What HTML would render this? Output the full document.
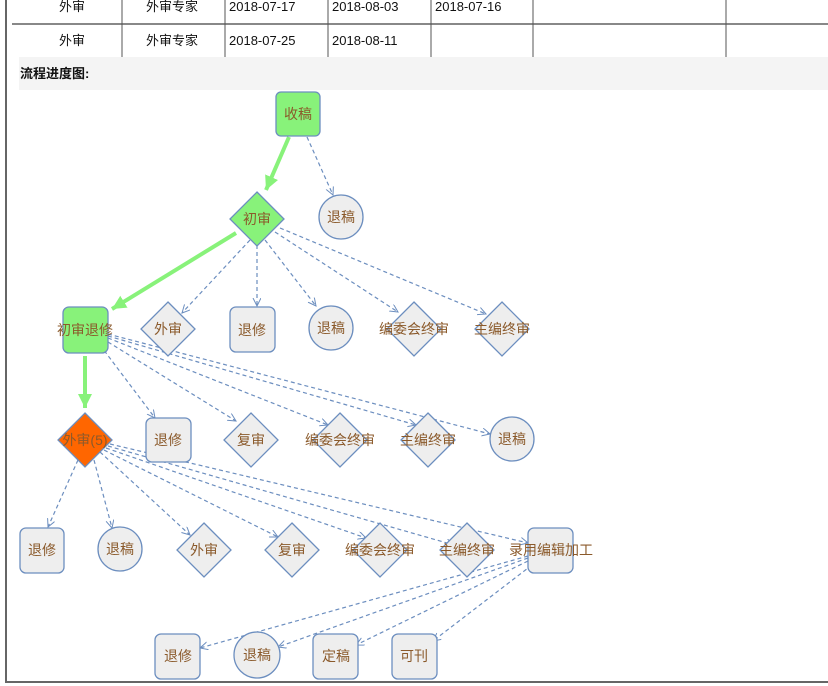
<!DOCTYPE html>
<html><head><meta charset="utf-8"><style>
body{margin:0;width:828px;height:686px;overflow:hidden;background:#fff;font-family:"Liberation Sans","Noto Sans CJK SC",sans-serif;}
svg{position:absolute;left:0;top:0}
</style></head><body>
<svg width="828" height="686" viewBox="0 0 828 686" xmlns="http://www.w3.org/2000/svg" font-family="Liberation Sans, Noto Sans CJK SC, sans-serif">
<defs>
<marker id="a" markerWidth="10" markerHeight="10" refX="8" refY="4" orient="auto" markerUnits="userSpaceOnUse"><path d="M0,0 L8,4 L0,8" fill="none" stroke="#6c8ebf" stroke-width="1"/></marker>
<marker id="g" markerWidth="20" markerHeight="20" refX="14" refY="7" orient="auto" markerUnits="userSpaceOnUse"><path d="M0,0 L14,7 L0,14 Z" fill="#88f27a"/></marker>
</defs>
<rect x="5" y="0" width="2" height="683" fill="#666"/>
<rect x="5" y="681" width="823" height="2" fill="#666"/>
<g stroke="#555" stroke-width="1">
<line x1="12" y1="24" x2="828" y2="24" stroke-width="2" stroke="#888"/>
<line x1="122" y1="0" x2="122" y2="57"/><line x1="225" y1="0" x2="225" y2="57"/>
<line x1="328" y1="0" x2="328" y2="57"/><line x1="431" y1="0" x2="431" y2="57"/>
<line x1="533" y1="0" x2="533" y2="57"/><line x1="726" y1="0" x2="726" y2="57"/>
</g>
<g font-size="13" fill="#111">
<text x="72" y="11" text-anchor="middle">外审</text><text x="172" y="11" text-anchor="middle">外审专家</text>
<text x="229" y="11">2018-07-17</text><text x="332" y="11">2018-08-03</text><text x="435" y="11">2018-07-16</text>
<text x="72" y="45" text-anchor="middle">外审</text><text x="172" y="45" text-anchor="middle">外审专家</text>
<text x="229" y="45">2018-07-25</text><text x="332" y="45">2018-08-11</text>
</g>
<rect x="19" y="57" width="809" height="33" fill="#f4f4f4"/>
<text x="20" y="78" font-size="13" font-weight="bold" fill="#111">流程进度图:</text>
<g stroke="#6c8ebf" stroke-width="1.2" stroke-dasharray="4,3" fill="none" marker-end="url(#a)">
<line x1="307" y1="137" x2="333" y2="195"/>
<line x1="250" y1="240" x2="182" y2="313"/>
<line x1="257" y1="245" x2="257" y2="306"/>
<line x1="265" y1="240" x2="316" y2="306"/>
<line x1="275" y1="232" x2="398" y2="312"/>
<line x1="280" y1="228" x2="486" y2="314"/>
<line x1="100" y1="345" x2="155" y2="418"/>
<line x1="108" y1="342" x2="236" y2="421"/>
<line x1="108" y1="338" x2="328" y2="425"/>
<line x1="108" y1="336" x2="416" y2="425"/>
<line x1="108" y1="334" x2="490" y2="434"/>
<line x1="78" y1="460" x2="48" y2="527"/>
<line x1="94" y1="460" x2="112" y2="528"/>
<line x1="100" y1="452" x2="190" y2="535"/>
<line x1="104" y1="450" x2="278" y2="537"/>
<line x1="106" y1="448" x2="366" y2="538"/>
<line x1="108" y1="446" x2="454" y2="545"/>
<line x1="110" y1="444" x2="528" y2="543"/>
<line x1="528" y1="556" x2="200" y2="648"/>
<line x1="528" y1="558" x2="278" y2="647"/>
<line x1="528" y1="561" x2="356" y2="645"/>
<line x1="532" y1="565" x2="433" y2="641"/>
</g>
<g stroke="#88f27a" stroke-width="4" fill="none" marker-end="url(#g)">
<line x1="289" y1="137" x2="266" y2="190"/>
<line x1="236" y1="233" x2="112" y2="309"/>
<line x1="85" y1="356" x2="85" y2="408"/>
</g>
<g stroke="#6c8ebf" stroke-width="1.3" fill="#eeeeee">
<rect x="276" y="92" width="44" height="44" rx="5" fill="#88f27a"/>
<circle cx="341" cy="217" r="22"/>
<path d="M257,192 L284,219 L257,246 L230,219Z" fill="#88f27a"/>
<rect x="63" y="307" width="45" height="46" rx="6" fill="#88f27a"/>
<path d="M168,302 L195,329 L168,356 L141,329Z"/>
<rect x="230" y="307" width="45" height="45" rx="6"/>
<circle cx="331" cy="328" r="22"/>
<path d="M414,302 L441,329 L414,356 L387,329Z"/>
<path d="M502,302 L529,329 L502,356 L475,329Z"/>
<path d="M85,413 L112,440 L85,467 L58,440Z" fill="#ff6600"/>
<rect x="146" y="418" width="45" height="44" rx="6"/>
<path d="M251,413 L278,440 L251,467 L224,440Z"/>
<path d="M340,413 L367,440 L340,467 L313,440Z"/>
<path d="M428,413 L455,440 L428,467 L401,440Z"/>
<circle cx="512" cy="439" r="22"/>
<rect x="20" y="528" width="44" height="45" rx="6"/>
<circle cx="120" cy="549" r="22"/>
<path d="M204,523 L231,550 L204,577 L177,550Z"/>
<path d="M292,523 L319,550 L292,577 L265,550Z"/>
<path d="M380,523 L407,550 L380,577 L353,550Z"/>
<path d="M467,523 L494,550 L467,577 L440,550Z"/>
<rect x="528" y="528" width="45" height="45" rx="6"/>
<rect x="155" y="634" width="45" height="45" rx="6"/>
<circle cx="257" cy="655" r="23"/>
<rect x="313" y="634" width="45" height="45" rx="6"/>
<rect x="392" y="634" width="45" height="45" rx="6"/>
</g>
<g font-size="14" fill="#8b5a2b" text-anchor="middle">
<text x="298" y="119">收稿</text>
<text x="341" y="222">退稿</text>
<text x="257" y="224">初审</text>
<text x="85" y="335">初审退修</text>
<text x="168" y="334">外审</text>
<text x="252" y="335">退修</text>
<text x="331" y="333">退稿</text>
<text x="414" y="334">编委会终审</text>
<text x="502" y="334">主编终审</text>
<text x="85" y="445">外审(5)</text>
<text x="168" y="445">退修</text>
<text x="251" y="445">复审</text>
<text x="340" y="445">编委会终审</text>
<text x="428" y="445">主编终审</text>
<text x="512" y="444">退稿</text>
<text x="42" y="555">退修</text>
<text x="120" y="554">退稿</text>
<text x="204" y="555">外审</text>
<text x="292" y="555">复审</text>
<text x="380" y="555">编委会终审</text>
<text x="467" y="555">主编终审</text>
<text x="551" y="555">录用编辑加工</text>
<text x="178" y="661">退修</text>
<text x="257" y="660">退稿</text>
<text x="336" y="661">定稿</text>
<text x="414" y="661">可刊</text>
</g>
</svg>
</body></html>
